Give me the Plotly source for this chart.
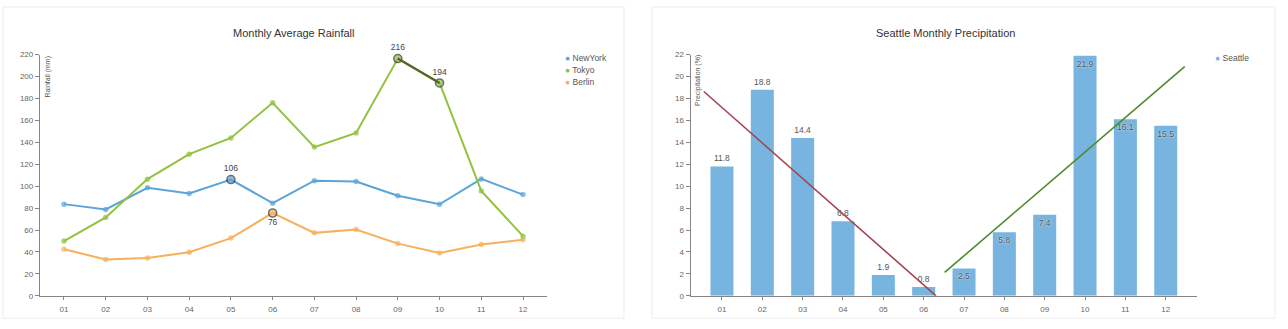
import numpy as np
import plotly.graph_objects as go

W, H = 1288, 329

# ---------------- data ----------------
months = ["01", "02", "03", "04", "05", "06", "07", "08", "09", "10", "11", "12"]
newyork = [83.6, 78.8, 98.5, 93.4, 106.0, 84.5, 105.0, 104.3, 91.2, 83.5, 106.6, 92.3]
tokyo = [49.9, 71.5, 106.4, 129.2, 144.0, 176.0, 135.6, 148.5, 216.4, 194.1, 95.6, 54.4]
berlin = [42.4, 33.2, 34.5, 39.7, 52.6, 75.5, 57.4, 60.4, 47.6, 39.1, 46.8, 51.1]
seattle = [11.8, 18.8, 14.4, 6.8, 1.9, 0.8, 2.5, 5.8, 7.4, 21.9, 16.1, 15.5]

# highlighted (labelled) points per series, by month index
hl_newyork = [4]
hl_tokyo = [8, 9]
hl_berlin = [5]

# ---------------- styling ----------------
FONT = "Liberation Sans, Arial, sans-serif"
C_NY, C_TK, C_BE = "#5ba4d8", "#92c23e", "#f6b15f"
C_BAR = "#78b4e0"
C_RED, C_GREEN = "#a3444f", "#4f8a2b"
AXIS_C = "#858585"

def px(x):
    return x / W

def py(y):
    return 1 - y / H

idx = list(range(len(months)))

fig = go.Figure()

def series(name, vals, color, hl, label_pos):
    text = [str(int(v + 0.5)) if i in hl else "" for i, v in enumerate(vals)]
    sizes = [8 if i in hl else 5.5 for i in idx]
    lw = [1.6 if i in hl else 0 for i in idx]
    fig.add_trace(go.Scatter(
        x=idx, y=vals, name=name, mode="lines+markers+text",
        line=dict(color=color, width=2),
        marker=dict(color=color, size=sizes, line=dict(color="#333", width=lw)),
        text=text, textposition=label_pos,
        textfont=dict(family=FONT, size=8.5, color="#444"),
        cliponaxis=False, showlegend=False,
        xaxis="x", yaxis="y"))

series("NewYork", newyork, C_NY, hl_newyork, "top center")
series("Berlin", berlin, C_BE, hl_berlin, "bottom center")
series("Tokyo", tokyo, C_TK, hl_tokyo, "top center")
# darker highlighted Tokyo segment between highlighted points
fig.add_trace(go.Scatter(
    x=hl_tokyo, y=[tokyo[i] for i in hl_tokyo], mode="lines",
    line=dict(color="#55652b", width=2.2), showlegend=False,
    hoverinfo="skip", xaxis="x", yaxis="y"))

# ---------------- right chart ----------------
pos = ["outside" if i < 6 else "inside" for i in idx]
fig.add_trace(go.Bar(
    x=idx, y=seattle, name="Seattle", marker=dict(color=C_BAR, line=dict(width=0)),
    width=0.57, text=[f"{v:.1f}" for v in seattle], textposition=pos,
    insidetextanchor="end", constraintext="none",
    textfont=dict(family=FONT, size=8.5, color="#555", shadow="0px 0px 2px white"),
    cliponaxis=False, showlegend=False, xaxis="x2", yaxis="y2"))

# linear trends of first and second half-year
ext = 0.45
x1 = np.array(idx[:6], dtype=float)
s1, b1 = np.polyfit(x1, seattle[:6], 1)
xa = x1[0] - ext
xz = -b1 / s1
fig.add_trace(go.Scatter(x=[xa, xz], y=[s1 * xa + b1, 0.0], mode="lines",
                         line=dict(color=C_RED, width=1.6), showlegend=False,
                         xaxis="x2", yaxis="y2"))
x2 = np.array(idx[6:], dtype=float)
s2, b2 = np.polyfit(x2, seattle[6:], 1)
xs = np.array([x2[0] - ext - 0.03, x2[-1] + ext + 0.02])
fig.add_trace(go.Scatter(x=xs, y=s2 * xs + b2, mode="lines",
                         line=dict(color=C_GREEN, width=1.6), showlegend=False,
                         xaxis="x2", yaxis="y2"))

axis_common = dict(showline=True, linecolor=AXIS_C, linewidth=1.3, ticks="outside",
                   tickcolor=AXIS_C, tickwidth=1, showgrid=False, zeroline=False,
                   tickfont=dict(family=FONT, size=8, color="#666"))

ydom = [py(300), py(52)]
fig.update_layout(
    width=W, height=H, margin=dict(l=0, r=0, t=0, b=0),
    paper_bgcolor="white", plot_bgcolor="white", showlegend=False,
    font=dict(family=FONT),
    xaxis=dict(domain=[px(40), px(547)], range=[-0.575, 11.575], tickvals=idx,
               ticktext=months, ticklen=3, ticklabelstandoff=2, anchor="y", **axis_common),
    yaxis=dict(domain=ydom, range=[0, 220], dtick=20, ticklen=4, anchor="x", **axis_common),
    xaxis2=dict(domain=[px(690.7), px(1197)], range=[-0.775, 11.775], tickvals=idx,
                ticktext=months, ticklen=3, ticklabelstandoff=2, anchor="y2", **axis_common),
    yaxis2=dict(domain=ydom, range=[0, 22], dtick=2, ticklen=4, anchor="x2", **axis_common),
)

# card borders
for x0, x1_ in [(3, 624), (652, 1275)]:
    fig.add_shape(type="rect", xref="paper", yref="paper", x0=px(x0), x1=px(x1_),
                  y0=py(323), y1=py(3), line=dict(color="#ececec", width=1), layer="below")

# titles
for text, cx in [("Monthly Average Rainfall", 293), ("Seattle Monthly Precipitation", 945)]:
    fig.add_annotation(text=text, x=px(cx), y=py(29.5), xref="paper", yref="paper",
                       showarrow=False, font=dict(family=FONT, size=11, color="#333"),
                       xanchor="center", yanchor="middle")

# axis titles
for text, cx in [("Rainfall (mm)", 48), ("Precipitation (%)", 698)]:
    fig.add_annotation(text=text, x=px(cx), y=py(51), xref="paper", yref="paper",
                       showarrow=False, textangle=-90,
                       font=dict(family=FONT, size=7, color="#555"),
                       xanchor="center", yanchor="top")

# legends
legend_items = [("NewYork", C_NY, 563, 56), ("Tokyo", C_TK, 563, 68), ("Berlin", C_BE, 563, 80),
                ("Seattle", C_BAR, 1213, 56)]
for name, color, lx, ly in legend_items:
    fig.add_annotation(text=f"<span style='color:{color}'>●</span> {name}",
                       x=px(lx), y=py(ly), xref="paper", yref="paper", showarrow=False,
                       font=dict(family=FONT, size=8.5, color="#555"),
                       xanchor="left", yanchor="middle")

fig.write_html("out.html")
